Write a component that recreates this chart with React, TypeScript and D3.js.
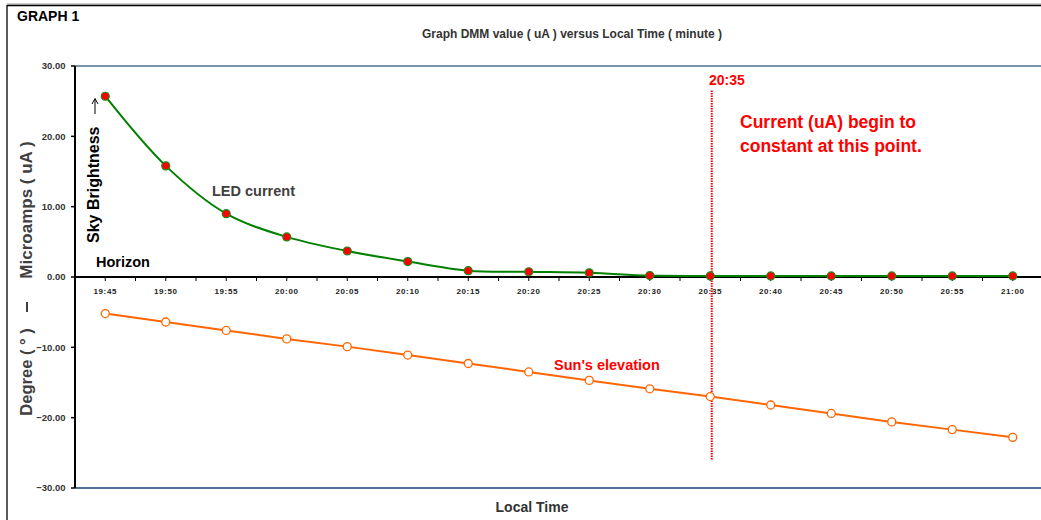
import React from "react";
import * as d3 from "d3";

// Local time labels, one reading every 5 minutes
const timeLabels = [
  "19:45", "19:50", "19:55", "20:00", "20:05", "20:10", "20:15", "20:20",
  "20:25", "20:30", "20:35", "20:40", "20:45", "20:50", "20:55", "21:00",
];
// Minutes after 19:45 for each reading
const minutes = [0, 5, 10, 15, 20, 25, 30, 35, 40, 45, 50, 55, 60, 65, 70, 75];
// DMM reading of the LED (uA)
const ledCurrent = [
  25.7, 15.8, 9.0, 5.7, 3.7, 2.2, 0.9, 0.75, 0.6, 0.2, 0.15, 0.15, 0.15, 0.15, 0.15, 0.15,
];
// Sun's elevation (degrees)
const sunElevation = [
  -5.2, -6.4, -7.6, -8.8, -9.9, -11.1, -12.3, -13.5, -14.7, -15.9, -17.0, -18.2,
  -19.4, -20.6, -21.7, -22.8,
];
const yTicks = [30, 20, 10, 0, -10, -20, -30];
// Marker time for the vertical reference line (20:35)
const markerMinute = 50;

const FONT = "'Liberation Sans', Arial, sans-serif";

export default function App() {
  const W = 1041;
  const H = 520;
  const x = d3.scaleLinear().domain([-2.5, 77.5]).range([75, 1043]);
  const y = d3.scaleLinear().domain([-30, 30]).range([488, 66]);

  const ledLine = d3
    .line<number>()
    .x((_, i) => x(minutes[i]))
    .y((d) => y(d))
    .curve(d3.curveCatmullRom.alpha(0.5));
  const sunLine = d3
    .line<number>()
    .x((_, i) => x(minutes[i]))
    .y((d) => y(d));

  const minorTicks = d3.range(-2.5, 78, 2.5);

  return (
    <svg
      width={W}
      height={H}
      style={{ position: "absolute", left: 0, top: 0, display: "block", background: "#fff" }}
      fontFamily={FONT}
    >
      {/* outer frame */}
      <line x1={7} y1={4} x2={W} y2={4} stroke="#9a9a9a" strokeWidth={1} />
      <line x1={7} y1={5.5} x2={W} y2={5.5} stroke="#000" strokeWidth={1.5} />
      <line x1={7} y1={5} x2={7} y2={H} stroke="#000" strokeWidth={1.3} />

      <text x={17} y={21} fontSize={14} fontWeight="bold" fill="#000">GRAPH 1</text>
      <text x={572} y={38} fontSize={12} fontWeight="bold" fill="#333" textAnchor="middle">
        Graph DMM value ( uA ) versus Local Time ( minute )
      </text>

      {/* horizontal bounds at +30 / -30 */}
      <line x1={75} x2={W} y1={y(30)} y2={y(30)} stroke="#7a93ad" strokeWidth={2} />
      <line x1={75} x2={W} y1={y(-30)} y2={y(-30)} stroke="#4e6f96" strokeWidth={2} />

      {/* y axis */}
      <line x1={75} x2={75} y1={y(30)} y2={y(-30)} stroke="#000" strokeWidth={2} />
      {yTicks.map((t) => (
        <g key={t}>
          <line x1={71} x2={75} y1={y(t)} y2={y(t)} stroke="#000" strokeWidth={1.5} />
          <text
            x={65.5}
            y={y(t)}
            dy="0.35em"
            fontSize={9.5}
            fontWeight="bold"
            fill="#333"
            textAnchor="end"
          >
            {d3.format(".2f")(t)}
          </text>
        </g>
      ))}

      {/* x axis at zero */}
      <line x1={75} x2={W} y1={y(0)} y2={y(0)} stroke="#000" strokeWidth={2} />
      {minorTicks.map((m) => (
        <line key={m} x1={x(m)} x2={x(m)} y1={y(0)} y2={y(0) + 4} stroke="#000" strokeWidth={1} />
      ))}
      {timeLabels.map((lab, i) => (
        <text
          key={lab}
          x={x(minutes[i])}
          y={294}
          fontSize={8}
          fontWeight="bold"
          fill="#222"
          textAnchor="middle"
          letterSpacing={0.6}
        >
          {lab}
        </text>
      ))}

      {/* vertical reference at 20:35 */}
      <line
        x1={x(markerMinute) + 1.5}
        x2={x(markerMinute) + 1.5}
        y1={y(26.5)}
        y2={y(-26)}
        stroke="#ff0000"
        strokeWidth={2}
        strokeDasharray="1.5,1"
      />

      {/* sun's elevation */}
      <path d={sunLine(sunElevation) || ""} fill="none" stroke="#ff6600" strokeWidth={2} />
      {sunElevation.map((v, i) => (
        <circle
          key={i}
          cx={x(minutes[i])}
          cy={y(v)}
          r={4}
          fill="#fff"
          stroke="#ff6600"
          strokeWidth={1.3}
        />
      ))}

      {/* LED current */}
      <path d={ledLine(ledCurrent) || ""} fill="none" stroke="#008000" strokeWidth={2} />
      {ledCurrent.map((v, i) => (
        <circle
          key={i}
          cx={x(minutes[i])}
          cy={y(v)}
          r={4}
          fill="#ff0000"
          stroke="#1a8a1a"
          strokeWidth={1.2}
        />
      ))}

      {/* annotations */}
      <text x={709} y={85} fontSize={14} fontWeight="bold" fill="#ff0000">20:35</text>
      <text x={740} y={128} fontSize={17.5} fontWeight="bold" fill="#ff0000">Current (uA) begin to</text>
      <text x={740} y={152} fontSize={17.5} fontWeight="bold" fill="#ff0000">constant at this point.</text>
      <text x={212} y={196} fontSize={14.5} fontWeight="bold" fill="#404040">LED current</text>
      <text x={96} y={267} fontSize={14.5} fontWeight="bold" fill="#000">Horizon</text>
      <text x={554} y={370} fontSize={14.5} fontWeight="bold" fill="#ff0000">Sun's elevation</text>
      <text x={532} y={512} fontSize={14} fontWeight="bold" fill="#333" textAnchor="middle">Local Time</text>

      <text
        transform="translate(99,243) rotate(-90)"
        fontSize={16}
        fontWeight="bold"
        fill="#000"
      >
        Sky Brightness
      </text>
      {/* upward arrow above the rotated label */}
      <line x1={95} x2={95} y1={114} y2={100} stroke="#000" strokeWidth={1} />
      <path d="M92,104 L95,98.5 L98,104" fill="none" stroke="#000" strokeWidth={1} />

      {/* combined y title: current part, separator, degree part */}
      <text
        transform="translate(32,210) rotate(-90)"
        fontSize={17}
        fontWeight="bold"
        fill="#404040"
        textAnchor="middle"
      >
        Microamps ( uA )
      </text>
      <line x1={27} x2={27} y1={302} y2={312} stroke="#404040" strokeWidth={2} />
      <text
        transform="translate(32,372) rotate(-90)"
        fontSize={16.5}
        fontWeight="bold"
        fill="#404040"
        textAnchor="middle"
      >
        Degree ( ° )
      </text>
    </svg>
  );
}
